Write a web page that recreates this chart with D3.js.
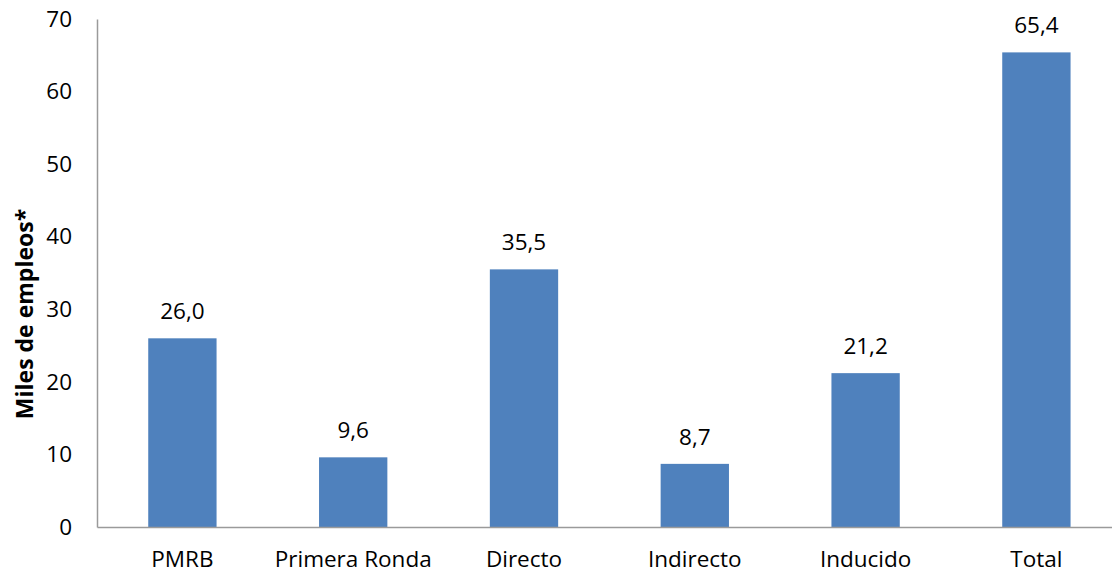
<!DOCTYPE html>
<html>
<head>
<meta charset="utf-8">
<script src="https://cdn.jsdelivr.net/npm/d3@7"></script>
<style>
  body { margin: 0; background: #fff; }
  text { font-family: "Open Sans", sans-serif; fill: #000; }
</style>
</head>
<body>
<svg id="chart" width="1112" height="573"></svg>
<script>
const categories = ["PMRB", "Primera Ronda", "Directo", "Indirecto", "Inducido", "Total"],
    values = [26.0, 9.6, 35.5, 8.7, 21.2, 65.4],
    yTicks = [0, 10, 20, 30, 40, 50, 60, 70],
    yTitle = "Miles de empleos*",
    barColor = "#4f81bd",
    axisColor = "#9a9a9a";

const svg = d3.select("#chart"),
    plotLeft = 97,
    plotTop = 19,
    plotBottom = 527,
    fontSize = "22.5px";

const xScale = d3.scaleBand()
    .domain(categories)
    .range([plotLeft, plotLeft + 6 * 170.8])
    .paddingInner(0.6)
    .paddingOuter(0.3);

const yScale = d3.scaleLinear().domain([0, 70]).range([plotBottom, plotTop]);

// bars
svg.selectAll(".bar")
    .data(values)
    .enter().append("rect")
    .attr("class", "bar")
    .attr("x", (d, i) => xScale(categories[i]))
    .attr("y", d => yScale(d))
    .attr("width", xScale.bandwidth())
    .attr("height", d => plotBottom - yScale(d))
    .attr("fill", barColor);

// value labels
svg.selectAll(".val")
    .data(values)
    .enter().append("text")
    .attr("class", "val")
    .attr("x", (d, i) => xScale(categories[i]) + xScale.bandwidth() / 2)
    .attr("y", d => yScale(d) - 19)
    .attr("text-anchor", "middle")
    .style("font-size", fontSize)
    .text(d => d.toFixed(1).replace(".", ","));

// y axis
const yAxis = svg.append("g")
    .attr("transform", "translate(" + plotLeft + ",0)")
    .call(d3.axisLeft(yScale).tickValues(yTicks).tickSize(0).tickPadding(25));
yAxis.select(".domain").attr("stroke", axisColor).attr("stroke-width", 1.5);
yAxis.selectAll("text").style("font-size", fontSize).attr("fill", "#000");

// x axis
const xAxis = svg.append("g")
    .attr("transform", "translate(0," + plotBottom + ")")
    .call(d3.axisBottom(xScale).tickSize(0).tickPadding(24));
xAxis.select(".domain").attr("stroke", axisColor).attr("stroke-width", 1.5);
xAxis.selectAll("text").style("font-size", fontSize).attr("fill", "#000");

// axis title
svg.append("text")
    .attr("transform", "translate(33,314) rotate(-90)")
    .attr("text-anchor", "middle")
    .style("font-size", "23px")
    .style("font-weight", "bold")
    .text(yTitle);
</script>
</body>
</html>
